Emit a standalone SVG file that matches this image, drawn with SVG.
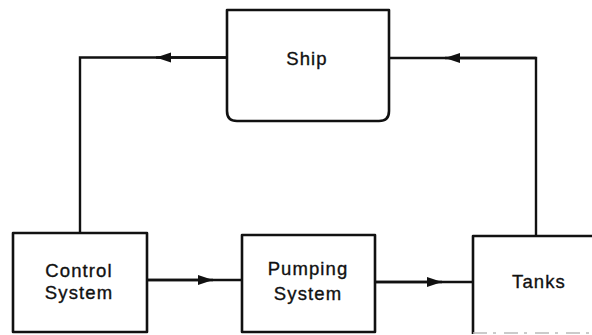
<svg xmlns="http://www.w3.org/2000/svg" width="592" height="335" viewBox="0 0 592 335">
  <style>
    .box { fill: none; stroke: #111; stroke-width: 2.6; stroke-linejoin: round; }
    .wire { fill: none; stroke: #111; stroke-width: 2.4; }
    .lbl { font-family: "Liberation Sans", Arial, sans-serif; font-size: 18.5px; letter-spacing: 1.1px; fill: #111; stroke: #111; stroke-width: 0.35; text-anchor: middle; }
  </style>
  <defs>
    <marker id="arrow" markerUnits="userSpaceOnUse" markerWidth="18" markerHeight="12" viewBox="0 -6 18 12" refX="15" refY="0" orient="auto">
      <path d="M0,-5 L15,0 L0,5 Z" fill="#111"/>
    </marker>
  </defs>
  <rect width="592" height="335" fill="#fff"/>

  <g id="connectors">
    <!-- control system up to ship -->
    <path class="wire" d="M80,233 V57.5 H227"/>
    <path class="wire" d="M227,57.5 H156" marker-end="url(#arrow)"/>
    <!-- tanks up to ship -->
    <path class="wire" d="M536,236 V58 H389"/>
    <path class="wire" d="M536,58 H445" marker-end="url(#arrow)"/>
    <!-- control system to pumping system -->
    <path class="wire" d="M147,280 H242"/>
    <path class="wire" d="M147,280 H213" marker-end="url(#arrow)"/>
    <!-- pumping system to tanks -->
    <path class="wire" d="M375,282 H473"/>
    <path class="wire" d="M375,282 H442" marker-end="url(#arrow)"/>
  </g>

  <g id="ship">
    <path class="box" d="M227,10 H389 V111 Q389,121 379,121 H237 Q227,121 227,111 Z"/>
    <text class="lbl" x="307" y="65">Ship</text>
  </g>

  <g id="control-system">
    <rect class="box" x="13" y="233" width="134" height="99"/>
    <text class="lbl" x="79" y="277">Control</text>
    <text class="lbl" x="79" y="299">System</text>
  </g>

  <g id="pumping-system">
    <rect class="box" x="242" y="235" width="133" height="97"/>
    <text class="lbl" x="308" y="275">Pumping</text>
    <text class="lbl" x="308" y="300">System</text>
  </g>

  <g id="tanks">
    <path class="box" d="M596,236 H473 V334"/>
    <path d="M473,333 H596" fill="none" stroke="#bbb" stroke-width="1.5" stroke-dasharray="14 6 3 8"/>
    <text class="lbl" x="539" y="288">Tanks</text>
  </g>
</svg>
